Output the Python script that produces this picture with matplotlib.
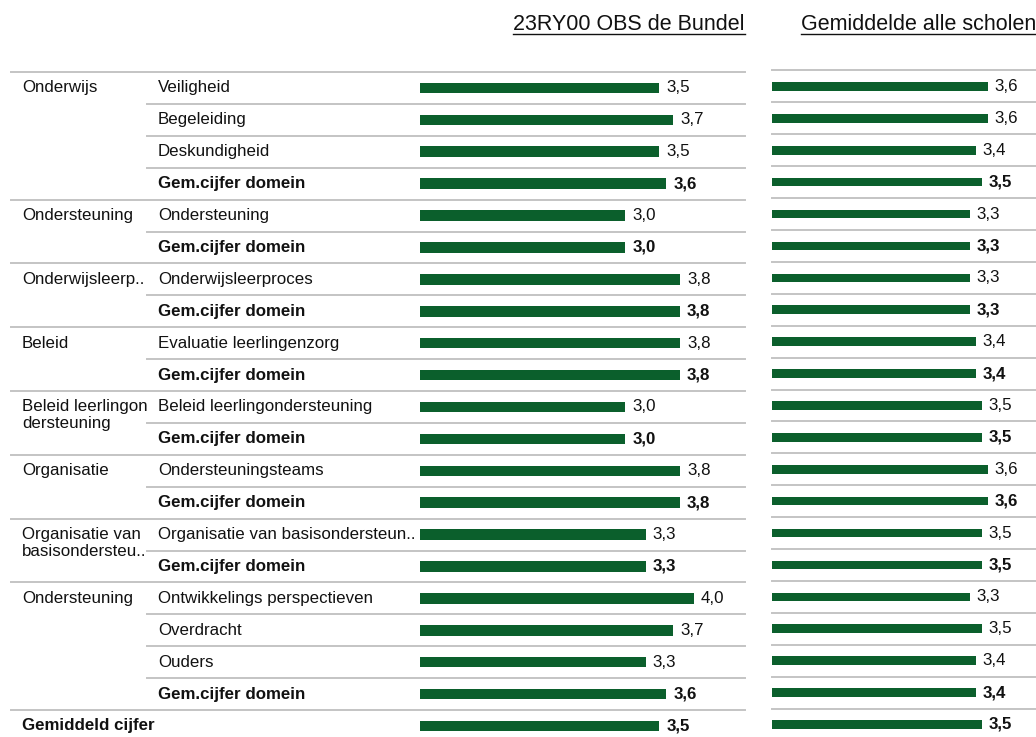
import numpy as np
import matplotlib.pyplot as plt
from matplotlib.transforms import blended_transform_factory

plt.rcParams['font.family'] = ['Liberation Sans', 'DejaVu Sans']

groups = ['Onderwijs', 'Ondersteuning', 'Onderwijsleerp..', 'Beleid',
          'Beleid leerlingon\ndersteuning', 'Organisatie',
          'Organisatie van\nbasisondersteu..', 'Ondersteuning', 'Gemiddeld cijfer']
group_sizes = [4, 2, 2, 2, 2, 2, 2, 4, 1]
items = ['Veiligheid', 'Begeleiding', 'Deskundigheid', 'Gem.cijfer domein',
         'Ondersteuning', 'Gem.cijfer domein',
         'Onderwijsleerproces', 'Gem.cijfer domein',
         'Evaluatie leerlingenzorg', 'Gem.cijfer domein',
         'Beleid leerlingondersteuning', 'Gem.cijfer domein',
         'Ondersteuningsteams', 'Gem.cijfer domein',
         'Organisatie van basisondersteun..', 'Gem.cijfer domein',
         'Ontwikkelings perspectieven', 'Overdracht', 'Ouders', 'Gem.cijfer domein',
         '']
school = [3.5, 3.7, 3.5, 3.6, 3.0, 3.0, 3.8, 3.8, 3.8, 3.8, 3.0, 3.0,
          3.8, 3.8, 3.3, 3.3, 4.0, 3.7, 3.3, 3.6, 3.5]
all_schools = [3.6, 3.6, 3.4, 3.5, 3.3, 3.3, 3.3, 3.3, 3.4, 3.4, 3.5, 3.5,
               3.6, 3.6, 3.5, 3.5, 3.3, 3.5, 3.4, 3.4, 3.5]
titles = ['23RY00 OBS de Bundel', 'Gemiddelde alle scholen']

W, H = 1036, 737
green = '#0b5f2c'
grey = '#c4c4c4'
txt = '#111111'
fs = 12.2

fig = plt.figure(figsize=(W / 100, H / 100), dpi=100)
top = 1 - 72 / H
ax1 = fig.add_axes([420 / W, 0, 325 / W, top])
ax2 = fig.add_axes([772 / W, 1.5 / H, 264 / W, top])
n = len(items)
y = np.arange(n)
bold = [('Gem.cijfer' in it) or i == n - 1 for i, it in enumerate(items)]

for ax, vals, xmax, bh in [(ax1, school, 4.75, 0.33), (ax2, all_schools, 4.41, 0.27)]:
    ax.barh(y, vals, height=bh, color=green)
    for i, v in enumerate(vals):
        ax.annotate(f'{v:.1f}'.replace('.', ','), (v, i), xytext=(5, 0),
                    textcoords='offset points', va='center', ha='left',
                    fontsize=fs, color=txt,
                    fontweight='bold' if bold[i] else 'normal')
    ax.set_xlim(0, xmax)
    ax.set_ylim((H - 88) / 31.9, -0.5)
    ax.axis('off')

tr = blended_transform_factory(fig.transFigure, ax1.transData)
starts = np.cumsum([0] + group_sizes[:-1])
group_edges = set(starts - 0.5)

# row separators
for b in np.arange(-0.5, n - 1, 1.0):
    x0 = 11 if b in group_edges else 147
    ax1.plot([x0 / W, 745 / W], [b, b], color=grey, lw=1.4,
             transform=tr, clip_on=False)
    ax2.plot([0, 1], [b, b], color=grey, lw=1.4,
             transform=blended_transform_factory(ax2.transAxes, ax2.transData),
             clip_on=False)

for i, it in enumerate(items):
    if it:
        ax1.text(158 / W, i, it, transform=tr, va='center', ha='left',
                 fontsize=fs, color=txt,
                 fontweight='bold' if bold[i] else 'normal')

for g, s in zip(groups, starts):
    for k, line in enumerate(g.split('\n')):
        ax1.text(22 / W, s + k * 0.53, line, transform=tr, va='center', ha='left',
                 fontsize=fs, color=txt,
                 fontweight='bold' if g == 'Gemiddeld cijfer' else 'normal')

# underlined column titles
t1 = fig.text(513 / W, 1 - 24 / H, titles[0], ha='left', va='center', fontsize=15.5, color=txt)
t2 = fig.text(801 / W, 1 - 24 / H, titles[1], ha='left', va='center', fontsize=15.5, color=txt)
fig.canvas.draw()
r = fig.canvas.get_renderer()
for t in (t1, t2):
    bb = t.get_window_extent(r)
    yl = (bb.y0 + 1) / H
    fig.add_artist(plt.Line2D([bb.x0 / W, bb.x1 / W], [yl, yl], color=txt, lw=1.0))

fig.savefig('out.png', dpi=100)
